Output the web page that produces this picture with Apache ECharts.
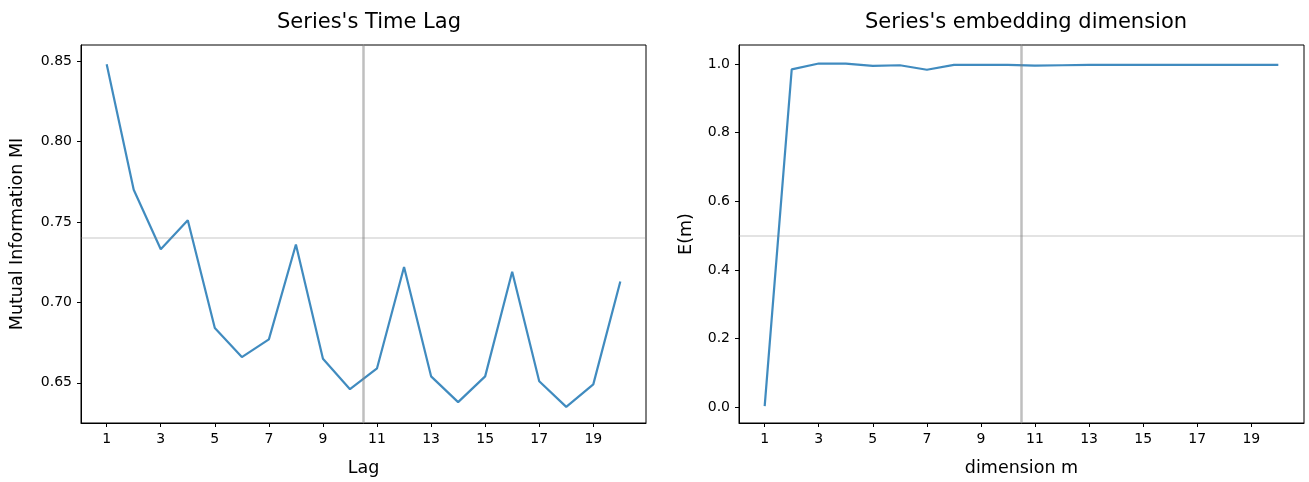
<!DOCTYPE html>
<html>
<head>
<meta charset="utf-8">
<script src="https://cdn.jsdelivr.net/npm/echarts@6/dist/echarts.min.js"></script>
<style>
html,body{margin:0;padding:0;background:#fff;}
#chart{width:1309px;height:482px;}
</style>
</head>
<body>
<div id="chart"></div>
<script>
// Data
const lags = [1,2,3,4,5,6,7,8,9,10,11,12,13,14,15,16,17,18,19,20];
const mutualInfo = [0.848,0.770,0.733,0.751,0.684,0.666,0.677,0.736,0.665,0.646,0.659,0.722,0.654,0.638,0.654,0.719,0.651,0.635,0.649,0.713];
const dims = [1,2,3,4,5,6,7,8,9,10,11,12,13,14,15,16,17,18,19,20];
const embedE = [0.003,0.984,1.001,1.001,0.994,0.996,0.983,0.997,0.997,0.997,0.995,0.996,0.997,0.997,0.997,0.997,0.997,0.997,0.997,0.997];
const xTicks = [1,3,5,7,9,11,13,15,17,19];
const yTicksLeft = [0.65,0.70,0.75,0.80,0.85];
const yTicksRight = [0.0,0.2,0.4,0.6,0.8,1.0];
const lagMarker = 10.5;
const dimMarker = 10.5;
const miRef = (Math.max(...mutualInfo) + Math.min(...mutualInfo)) / 2;
const eRef = (Math.max(...embedE) + Math.min(...embedE)) / 2;

const font = 'DejaVu Sans';
const lineColor = 'rgba(31,119,180,0.85)';

function xAxis(gridIndex, name) {
  return {
    type: 'value', gridIndex, min: 0.05, max: 20.95, name,
    nameLocation: 'middle', nameGap: 36,
    nameTextStyle: {fontFamily: font, fontSize: 17.5, color: '#000'},
    axisLine: {show: true, onZero: false, lineStyle: {color: '#000', width: 1}},
    axisTick: {show: true, inside: false, length: 4, customValues: xTicks, lineStyle: {color: '#000'}},
    axisLabel: {customValues: xTicks, fontFamily: font, fontSize: 14, color: '#000', margin: 9},
    splitLine: {show: false}
  };
}
function yAxis(gridIndex, name, min, max, ticks, dec, gap) {
  return {
    type: 'value', gridIndex, min, max, name,
    nameLocation: 'middle', nameGap: gap,
    nameTextStyle: {fontFamily: font, fontSize: 17.5, color: '#000'},
    axisLine: {show: true, onZero: false, lineStyle: {color: '#000', width: 1}},
    axisTick: {show: true, inside: false, length: 4, customValues: ticks, lineStyle: {color: '#000'}},
    axisLabel: {customValues: ticks, fontFamily: font, fontSize: 14, color: '#000', margin: 9,
      formatter: v => v.toFixed(dec)},
    splitLine: {show: false}
  };
}
function refLines(xv, yv) {
  return {
    silent: true, symbol: 'none', animation: false,
    label: {show: false},
    data: [
      {xAxis: xv, lineStyle: {color: 'rgba(128,128,128,0.5)', width: 2.5, type: 'solid'}},
      {yAxis: yv, lineStyle: {color: 'rgba(128,128,128,0.3)', width: 1.5, type: 'solid'}}
    ]
  };
}

const chart = echarts.init(document.getElementById('chart'), null, {renderer: 'canvas'});
chart.setOption({
  animation: false,
  backgroundColor: '#fff',
  title: [
    {text: "Series's Time Lag", left: 364, top: 7, textAlign: 'center',
     textStyle: {fontFamily: font, fontSize: 21, fontWeight: 'normal', color: '#000'}},
    {text: "Series's embedding dimension", left: 1021, top: 7, textAlign: 'center',
     textStyle: {fontFamily: font, fontSize: 21, fontWeight: 'normal', color: '#000'}}
  ],
  grid: [
    {left: 81, right: 663, top: 45, bottom: 58, show: true, borderColor: '#000', borderWidth: 1, containLabel: false},
    {left: 739, right: 5, top: 45, bottom: 58, show: true, borderColor: '#000', borderWidth: 1, containLabel: false}
  ],
  xAxis: [xAxis(0, 'Lag'), xAxis(1, 'dimension m')],
  yAxis: [
    yAxis(0, 'Mutual Information MI', 0.625, 0.86, yTicksLeft, 2, 55),
    yAxis(1, 'E(m)', -0.046, 1.055, yTicksRight, 1, 44)
  ],
  series: [
    {type: 'line', xAxisIndex: 0, yAxisIndex: 0, data: lags.map((x, i) => [x, mutualInfo[i]]),
     showSymbol: false, symbol: 'none', lineStyle: {color: lineColor, width: 2.2}, itemStyle: {color: lineColor},
     markLine: refLines(lagMarker, miRef)},
    {type: 'line', xAxisIndex: 1, yAxisIndex: 1, data: dims.map((x, i) => [x, embedE[i]]),
     showSymbol: false, symbol: 'none', lineStyle: {color: lineColor, width: 2.2}, itemStyle: {color: lineColor},
     markLine: refLines(dimMarker, eRef)}
  ]
});
</script>
</body>
</html>
